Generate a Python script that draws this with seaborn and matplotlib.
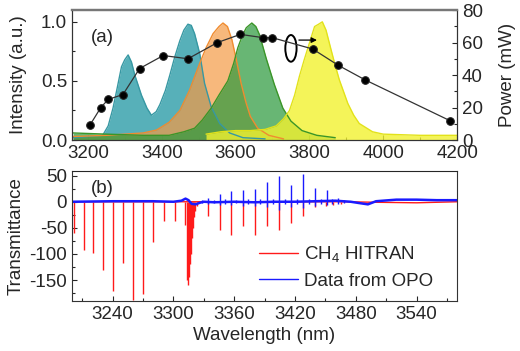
import numpy as np
import pandas as pd
import matplotlib
matplotlib.use('Agg')
import matplotlib.pyplot as plt
from matplotlib.patches import Ellipse
from matplotlib.ticker import MultipleLocator
import seaborn as sns

sns.set_style('ticks')
plt.rcParams['font.family'] = ['Liberation Sans', 'DejaVu Sans']
plt.rcParams['mathtext.fontset'] = 'custom'
plt.rcParams['mathtext.rm'] = 'Liberation Sans'
plt.rcParams['mathtext.default'] = 'regular'
plt.rcParams['axes.unicode_minus'] = False
plt.rcParams['xtick.direction'] = 'in'
plt.rcParams['ytick.direction'] = 'in'

# ---- (a) OPO output spectra ----
teal_wl = [3160, 3200, 3240, 3255, 3268, 3280, 3291, 3300, 3309, 3318, 3327, 3345, 3360, 3372,
           3385, 3395, 3410, 3422, 3435, 3449, 3460, 3471, 3480, 3489, 3503, 3516, 3534, 3557,
           3584, 3620, 3680]
teal_I = [0.02, 0.03, 0.04, 0.12, 0.27, 0.45, 0.62, 0.68, 0.72, 0.66, 0.55, 0.38, 0.27, 0.21,
          0.24, 0.30, 0.42, 0.55, 0.70, 0.84, 0.93, 0.98, 0.97, 0.90, 0.73, 0.48, 0.28, 0.14,
          0.06, 0.02, 0.01]

orange_wl = [3160, 3250, 3300, 3350, 3386, 3420, 3449, 3475, 3503, 3520, 3539, 3555, 3566,
             3578, 3590, 3602, 3615, 3628, 3640, 3660, 3690, 3730]
orange_I = [0.03, 0.04, 0.05, 0.06, 0.085, 0.15, 0.25, 0.42, 0.65, 0.78, 0.90, 0.96, 0.99,
            0.96, 0.85, 0.68, 0.48, 0.32, 0.20, 0.10, 0.04, 0.01]

green_wl = [3160, 3250, 3350, 3420, 3460, 3489, 3510, 3534, 3555, 3579, 3595, 3606, 3618,
            3629, 3644, 3655, 3665, 3683, 3705, 3728, 3750, 3780, 3820, 3870]
green_I = [0.06, 0.05, 0.04, 0.04, 0.07, 0.10, 0.17, 0.27, 0.38, 0.50, 0.65, 0.78, 0.88,
           0.95, 0.99, 0.96, 0.89, 0.69, 0.47, 0.27, 0.16, 0.08, 0.04, 0.02]

yellow_wl = [3520, 3560, 3600, 3640, 3680, 3710, 3730, 3746, 3760, 3773, 3786, 3800, 3814,
             3825, 3835, 3845, 3859, 3870, 3881, 3904, 3920, 3935, 3971, 4000, 4100, 4200]
yellow_I = [0.05, 0.07, 0.08, 0.08, 0.09, 0.12, 0.18, 0.25, 0.38, 0.54, 0.68, 0.82, 0.96,
            0.98, 1.00, 0.93, 0.76, 0.63, 0.51, 0.31, 0.21, 0.14, 0.07, 0.05, 0.04, 0.04]

# output power
power_wl = [3205, 3235, 3255, 3295, 3340, 3404, 3471, 3551, 3613, 3674, 3699, 3809, 3878, 3951, 4180]
power_mw = [9, 20, 25, 28, 44, 52, 50, 60, 65, 63, 63, 56, 46, 37, 12]

# ---- (b) transmittance ----
red_pos = [3201.6, 3211.5, 3220.7, 3230.6, 3240.4, 3250.2, 3260.0, 3270.0, 3280.3, 3290.9,
           3301.7, 3311.5, 3313, 3314, 3315, 3316, 3317, 3318, 3319, 3320, 3321, 3323,
           3334.4, 3346, 3356.7, 3368.3, 3380.4, 3392.5, 3404, 3415.8, 3427.9, 3440, 3451, 3458, 3465]
red_depth = [-60, -92, -98, -131, -170, -118, -188, -177, -77, -37,
             -37, -45, -150, -160, -145, -120, -100, -70, -50, -30, -18, -8,
             -27, -55, -64, -47, -63, -47, -55, -40, -27, -11, -8, -6, -4]
red_base_wl = [3200, 3470, 3500, 3540, 3580]
red_base = [0, 0, -1, -2, 0]

blue_wl = [3200, 3240, 3280, 3300, 3308, 3312, 3315, 3318, 3322, 3326, 3330, 3340, 3360, 3380,
           3400, 3420, 3440, 3460, 3475, 3485, 3492, 3500, 3520, 3540, 3560, 3580]
blue_T = [0, 1, 1, 0, 2, 6, 3, -4, -5, -2, 0, -1, 0, -1,
          0, 0, 1, 2, 0, -3, -5, 1, 4, 4, 3, 3]
blue_pos = [3334.4, 3346, 3356.7, 3368.3, 3380.4, 3392.5, 3404, 3415.8, 3427.9, 3440, 3452, 3462,
            3328, 3340, 3351, 3362, 3374, 3386, 3398, 3410, 3422, 3434, 3446, 3457, 3468]
blue_hi = [8, 14, 21, 22, 24, 37, 50, 32, 53, 26, 22, 8,
           4, 4, 5, 4, 5, 5, 6, 5, 6, 5, 6, 5, 4]
blue_lo = [-5, -6, -6, -8, -8, -10, -15, -10, -12, -8, -6, -4,
           -3, -3, -4, -3, -4, -4, -5, -4, -5, -4, -5, -4, -3]

spectra = [
    (teal_wl, teal_I, '#3aa3ad', '#3798a3', 0.85),
    (orange_wl, orange_I, '#f59a45', '#f08c30', 0.7),
    (green_wl, green_I, '#2e9a3e', '#3b9528', 0.72),
    (yellow_wl, yellow_I, '#f2f230', '#e2e21a', 0.8),
]

fig = plt.figure(figsize=(5.2, 3.51), dpi=100)
ax1 = fig.add_axes([0.1385, 0.601, 0.7405, 0.3705])
ax3 = fig.add_axes([0.1385, 0.1425, 0.7405, 0.3705])

fs = 13.5
for wl, inten, fc, ec, a in spectra:
    ax1.fill_between(wl, 0, inten, color=fc, alpha=a, lw=0)
    sns.lineplot(x=wl, y=inten, ax=ax1, color=ec, lw=1.0, sort=False)

ax1.set_xlim(3157, 4200)
ax1.set_ylim(0, 1.1)
ax1.set_ylabel('Intensity (a.u.)', fontsize=fs)
ax1.set_xlabel('')
ax1.yaxis.set_label_coords(-0.117, 0.5)
ax1.xaxis.set_major_locator(MultipleLocator(200))
ax1.xaxis.set_minor_locator(MultipleLocator(100))
ax1.yaxis.set_major_locator(MultipleLocator(0.5))
ax1.yaxis.set_minor_locator(MultipleLocator(0.25))
ax1.tick_params(labelsize=fs, length=3.5, width=0.8)
ax1.tick_params(which='minor', length=2, width=0.8)
ax1.spines['top'].set_color('#777777')
ax1.spines['top'].set_linewidth(1.6)
ax1.text(3238, 0.87, '(a)', fontsize=fs, ha='center', va='center')

ax2 = ax1.twinx()
sns.lineplot(x=power_wl, y=power_mw, ax=ax2, color='#333333', lw=0.9, marker='o',
             markersize=5.5, markerfacecolor='black', markeredgecolor='#222222')
ax2.set_ylim(0, 80)
ax2.yaxis.set_major_locator(MultipleLocator(20))
ax2.yaxis.set_minor_locator(MultipleLocator(10))
ax2.tick_params(labelsize=fs, length=3.5, width=0.8)
ax2.tick_params(which='minor', length=2, width=0.8)
ax2.set_ylabel('Power (mW)', fontsize=fs)
ax2.yaxis.set_label_coords(1.108, 0.5)
ax2.spines['top'].set_color('#777777')
ax2.spines['top'].set_linewidth(1.6)
ax2.add_patch(Ellipse((3750, 56.4), 30.5, 16.4, fill=False, lw=1.4, color='black'))
ax2.annotate('', xy=(3828, 61.5), xytext=(3764, 61.5),
             arrowprops=dict(arrowstyle='-|>', lw=0.9, color='black', mutation_scale=8))

# bottom panel
ax3.vlines(red_pos, red_depth, 0, color='#ff1a1a', lw=1.0)
sns.lineplot(x=red_base_wl, y=red_base, ax=ax3, color='#ff1a1a', lw=1.0, label='CH$_4$ HITRAN')
ax3.vlines(blue_pos, blue_lo, blue_hi, color='#1a1aff', lw=1.0)
sns.lineplot(x=blue_wl, y=blue_T, ax=ax3, color='#1a1aff', lw=1.8, label='Data from OPO')
ax3.set_xlim(3200, 3580)
ax3.set_ylim(-190, 59)
ax3.set_xticks([3240, 3300, 3360, 3420, 3480, 3540])
ax3.xaxis.set_minor_locator(MultipleLocator(30))
ax3.yaxis.set_major_locator(MultipleLocator(50))
ax3.yaxis.set_minor_locator(MultipleLocator(25))
ax3.tick_params(labelsize=fs, length=3.5, width=0.8)
ax3.tick_params(which='minor', length=2, width=0.8)
ax3.set_xlabel('Wavelength (nm)', fontsize=fs)
ax3.set_ylabel('Transmittance', fontsize=fs)
ax3.yaxis.set_label_coords(-0.122, 0.5)
ax3.xaxis.set_label_coords(0.5, -0.2)
ax3.text(3230, 26, '(b)', fontsize=fs, ha='center', va='center')
leg = ax3.legend(loc='center left', bbox_to_anchor=(0.46, 0.26), frameon=False, fontsize=fs,
                 borderpad=0, handlelength=2.1, handletextpad=0.3, labelspacing=0.45)
for h in leg.get_lines():
    h.set_linewidth(1.0)

for ax in (ax1, ax2, ax3):
    for s in ['left', 'right', 'bottom']:
        ax.spines[s].set_color('#333333')

fig.savefig('out.png', dpi=100)
